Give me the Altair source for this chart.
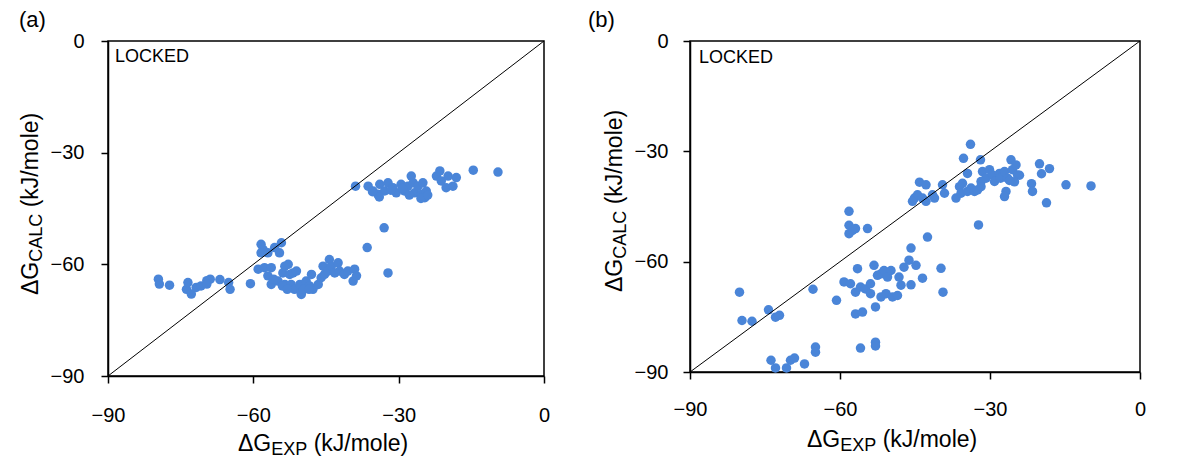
import altair as alt
import pandas as pd

# ---------------- data: panel (a) ----------------
a_exp = [
    -79.6, -79.4, -77.3, -73.8, -72.8, -73.5, -71.8, -70.8, -69.6, -68.9, -69.6, -66.9, -65.1, -64.8, -60.6,
    -58.4, -58.0, -58.4, -57.0, -55.6, -54.2, -54.6,
    -59.0, -57.7, -56.3, -57.0, -55.9, -56.3, -54.9, -53.5, -53.9, -52.8, -52.5, -51.8, -51.1, -53.5, -52.2,
    -51.5, -50.4, -50.1, -49.1, -48.4, -48.0, -47.7, -46.6, -46.0, -45.6, -45.3, -44.6, -44.3, -43.9, -43.2,
    -42.5, -42.2, -41.2, -40.5, -39.1, -39.4, -38.7,
    -50.1, -49.6, -48.5, -54.0, -53.0, -55.8,
    -36.5, -33.0, -32.2,
    -38.9, -36.3, -35.3, -34.3, -33.9, -32.9, -32.2, -31.2, -30.5, -29.5, -28.8, -28.1, -27.4, -27.0, -26.7,
    -26.0, -25.3, -25.0, -24.3, -24.6, -22.2, -21.5, -21.2, -20.2, -19.8, -18.8, -18.1, -14.6, -9.5,
    -34.0, -27.8, -25.4, -24.0, -35.4, -31.6, -29.2,
]
a_calc = [
    -64.0, -65.3, -65.6, -66.7, -68.0, -64.9, -66.2, -65.8, -64.4, -64.0, -65.3, -64.1, -64.9, -66.7, -65.2,
    -54.6, -56.0, -56.9, -56.9, -55.5, -54.2, -56.9,
    -61.3, -60.9, -60.9, -63.1, -64.5, -65.4, -64.5, -60.5, -62.3, -60.0, -62.7, -62.3, -61.8, -65.4, -65.4,
    -66.7, -65.4, -67.6, -64.5, -65.8, -62.7, -66.7, -65.4, -63.6, -60.5, -62.7, -61.8, -58.7, -60.5, -62.3,
    -59.6, -61.8, -62.7, -61.8, -61.3, -64.5, -63.1,
    -68.1, -66.7, -66.7, -65.8, -66.7, -64.0,
    -55.5, -50.2, -62.3,
    -39.0, -39.0, -40.3, -41.2, -38.5, -40.3, -38.1, -39.4, -40.8, -38.5, -40.3, -39.0, -36.3, -38.1, -40.8,
    -39.0, -41.2, -38.1, -40.3, -42.1, -36.3, -34.9, -37.6, -39.4, -36.3, -39.0, -36.7, -34.7, -35.2,
    -41.9, -41.4, -42.3, -41.4, -40.5, -40.1, -39.6,
]

# ---------------- data: panel (b) ----------------
b_exp = [
    -80.1, -79.6, -77.6, -74.3, -72.9, -72.1, -73.8, -72.9, -70.7, -69.9, -69.1, -67.1, -64.9, -64.9, -65.4, -60.7,
    -58.2, -58.2, -58.2, -57.5, -56.9, -54.5,
    -56.5, -59.2, -57.9, -56.9, -55.9, -54.9, -53.9, -53.2, -52.5, -51.8, -51.2, -50.5, -49.8, -53.9, -51.8,
    -50.8, -49.5, -48.5, -47.8, -48.2, -47.2, -46.2, -45.8, -44.8, -43.5, -45.8, -52.9, -56.9, -55.5, -55.9,
    -52.9, -52.9, -42.5, -39.8, -39.4,
    -33.9, -35.3, -31.9, -34.5, -44.1, -42.8, -45.1, -44.5, -45.5, -43.5, -42.8, -41.5, -41.1, -39.5, -39.1,
    -36.8, -36.1, -35.5, -35.8, -34.5, -33.8, -33.1, -32.5, -31.8, -31.5, -30.8, -30.1, -29.5, -29.1, -28.1,
    -27.9, -27.1, -26.5, -25.8, -25.5, -24.8, -24.5, -26.8, -27.1, -31.8,
    -21.7, -21.5, -20.1, -19.7, -18.1, -18.7, -14.8, -9.8, -32.3, -24.1, -25.1, -26.1,
]
b_calc = [
    -68.3, -76.0, -76.2, -73.1, -75.1, -74.6, -86.8, -88.9, -88.9, -86.8, -86.2, -87.8, -83.2, -84.6, -67.5, -70.5,
    -46.3, -50.1, -52.4, -51.5, -51.0, -51.0,
    -61.9, -65.5, -66.0, -68.3, -66.9, -67.4, -66.0, -61.0, -63.7, -63.3, -62.4, -64.2, -62.4, -68.7, -69.6,
    -68.7, -69.6, -69.2, -66.4, -64.2, -61.5, -59.6, -56.3, -61.0, -64.5, -66.3, -72.3, -74.2, -73.7, -83.5,
    -81.9, -82.9, -53.3, -61.8, -68.3,
    -28.1, -31.9, -32.3, -36.0, -38.4, -39.1, -42.7, -41.8, -43.6, -42.7, -43.6, -41.8, -42.7, -39.1, -41.4,
    -42.7, -39.6, -38.7, -41.4, -40.9, -40.0, -40.9, -40.5, -38.2, -35.5, -37.3, -35.0, -36.4, -38.2, -36.0,
    -37.3, -35.5, -37.3, -32.3, -35.0, -33.7, -36.4, -40.9, -42.3, -39.6,
    -38.8, -40.9, -33.4, -36.1, -34.7, -44.0, -39.1, -39.4, -50.0, -36.5, -38.3, -37.9,
]

ticks = [-90, -60, -30, 0]
diag = [-90, 0]

BLUE = "#4A85D8"
FONT = "Liberation Sans"


def txt(s, x, y, size, angle=0, align="left"):
    return (
        alt.Chart(pd.DataFrame({"t": [s]}))
        .mark_text(align=align, baseline="alphabetic", font=FONT, fontSize=size,
                   color="black", angle=angle)
        .encode(text="t:N", x=alt.value(x), y=alt.value(y))
    )


def panel(exp, calc, w, h, tag, tag_x, lock_x, lock_y, ytit_x, ytit_y, xtit_x, xtit_y, ypad, xpad):
    df = pd.DataFrame({"exp": exp, "calc": calc})
    xs = alt.Scale(domain=[-90, 0], nice=False, zero=False)
    ys = alt.Scale(domain=[-90, 0], nice=False, zero=False)
    common = dict(values=ticks, title=None, grid=False, tickSize=7, labelFontSize=20,
                  labelFont=FONT, labelColor="black", domainColor="black", tickColor="black",
                  domainWidth=1.5, tickWidth=1.5, labelFlush=False, labelOverlap=False, format="d")
    pts = alt.Chart(df).mark_circle(size=90, color=BLUE, opacity=1).encode(
        x=alt.X("exp:Q", scale=xs, axis=alt.Axis(labelPadding=xpad, **common)),
        y=alt.Y("calc:Q", scale=ys, axis=alt.Axis(labelPadding=ypad, **common)),
    )
    line = alt.Chart(pd.DataFrame({"v": diag})).mark_line(color="black", strokeWidth=1).encode(
        x=alt.X("v:Q", scale=xs), y=alt.Y("v:Q", scale=ys)
    )
    # subscripted axis titles built from pieces (Liberation Sans metrics)
    big, small = 23, 18
    w_dg = 1.446 * big
    w_calc = 2.667 * small
    w_exp = 2.0 * small
    w_sp = 0.278 * big
    layers = [
        pts,
        line,
        txt(tag, tag_x, -14, 22),
        txt("LOCKED", lock_x, lock_y, 18),
        # y title (rotated, reads bottom to top)
        txt("ΔG", ytit_x, ytit_y, big, angle=270),
        txt("CALC", ytit_x + 4, ytit_y - w_dg, small, angle=270),
        txt("(kJ/mole)", ytit_x, ytit_y - w_dg - w_calc - w_sp, big, angle=270),
        # x title
        txt("ΔG", xtit_x, xtit_y, big),
        txt("EXP", xtit_x + w_dg, xtit_y + 4, small),
        txt("(kJ/mole)", xtit_x + w_dg + w_exp + w_sp, xtit_y, big),
    ]
    return alt.layer(*layers).properties(width=w, height=h)


pa = panel(a_exp, a_calc, 436, 335, "(a)", -89, 7, 21, -70, 254, 130, 410, 17, 22)
pb = panel(b_exp, b_calc, 450, 331, "(b)", -102, 9, 22, -68, 251, 117, 406, 15, 20)

chart = (
    alt.hconcat(pa, pb, spacing=146, bounds="flush")
    .properties(padding={"left": 10, "top": 0, "right": 5, "bottom": 0})
    .configure_view(stroke="black", strokeWidth=1.5)
)

chart.save("out.html", embed_options={"renderer": "svg", "actions": False})
